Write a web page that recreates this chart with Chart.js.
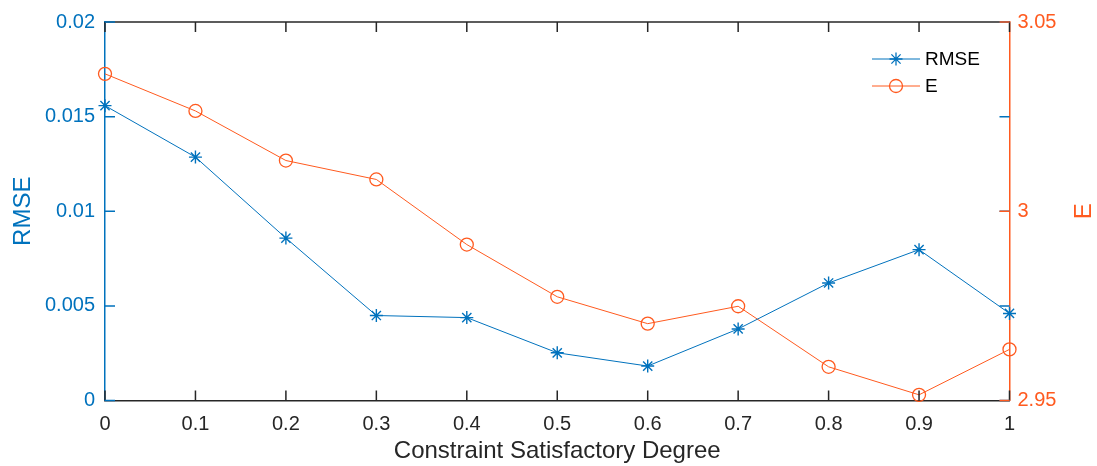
<!DOCTYPE html>
<html>
<head>
<meta charset="utf-8">
<script src="https://cdn.jsdelivr.net/npm/chart.js@4"></script>
<style>
  html, body { margin: 0; padding: 0; background: #fff; }
  #wrap { width: 1097px; height: 466px; }
</style>
</head>
<body>
<div id="wrap"><canvas id="chart" width="1097" height="466"></canvas></div>
<script>
// data
const degree = [0, 0.1, 0.2, 0.3, 0.4, 0.5, 0.6, 0.7, 0.8, 0.9, 1];
const rmse = [0.01558, 0.01286, 0.00858, 0.00449, 0.00438, 0.00252, 0.00182, 0.00378, 0.00621, 0.00797, 0.0046];
const energy = [3.0363, 3.0265, 3.0134, 3.0084, 2.9912, 2.9774, 2.9703, 2.9749, 2.9589, 2.9515, 2.9635];

const xTicks = [0, 0.1, 0.2, 0.3, 0.4, 0.5, 0.6, 0.7, 0.8, 0.9, 1];
const leftTicks = [0, 0.005, 0.01, 0.015, 0.02];
const rightTicks = [2.95, 3, 3.05];

const BLUE = '#0072BD';
const ORANGE = '#FF5A1F';
const INK = '#262626';
const FONT = '"Liberation Sans", Arial, sans-serif';

function fmt(v) {
  return String(Number(v.toFixed(4)));
}

// MATLAB-like frame: inward ticks, top edge, right label, legend
const matlabFrame = {
  id: 'matlabFrame',
  afterDatasetsDraw(chart) {
    const {ctx, chartArea: a, scales} = chart;
    const len = 10;
    ctx.save();
    ctx.lineWidth = 1.5;

    // top edge
    ctx.strokeStyle = INK;
    ctx.beginPath();
    ctx.moveTo(a.left, a.top);
    ctx.lineTo(a.right, a.top);
    ctx.stroke();

    // x ticks, bottom and top
    xTicks.forEach(v => {
      const px = scales.x.getPixelForValue(v);
      ctx.beginPath();
      ctx.moveTo(px, a.bottom);
      ctx.lineTo(px, a.bottom - len);
      ctx.moveTo(px, a.top);
      ctx.lineTo(px, a.top + len);
      ctx.stroke();
    });

    // left ticks (also mirrored on right side)
    ctx.strokeStyle = BLUE;
    leftTicks.forEach(v => {
      const py = scales.y.getPixelForValue(v);
      ctx.beginPath();
      ctx.moveTo(a.left, py);
      ctx.lineTo(a.left + len, py);
      ctx.moveTo(a.right, py);
      ctx.lineTo(a.right - len, py);
      ctx.stroke();
    });

    // right ticks
    ctx.strokeStyle = ORANGE;
    rightTicks.forEach(v => {
      const py = scales.y1.getPixelForValue(v);
      ctx.beginPath();
      ctx.moveTo(a.right, py);
      ctx.lineTo(a.right - len, py);
      ctx.stroke();
    });

    // right axis label, read bottom to top like MATLAB
    ctx.fillStyle = ORANGE;
    ctx.font = '24px ' + FONT;
    ctx.textAlign = 'center';
    ctx.textBaseline = 'middle';
    ctx.translate(1084, (a.top + a.bottom) / 2);
    ctx.rotate(-Math.PI / 2);
    ctx.fillText('E', 0, 0);
    ctx.setTransform(1, 0, 0, 1, 0, 0);

    // legend
    const lx = 872, lw = 48;
    const rows = [
      {label: 'RMSE', color: BLUE, style: 'star', y: 59},
      {label: 'E', color: ORANGE, style: 'circle', y: 86}
    ];
    ctx.font = '19px ' + FONT;
    ctx.textAlign = 'left';
    rows.forEach(r => {
      ctx.strokeStyle = r.color;
      ctx.lineWidth = 1;
      ctx.beginPath();
      ctx.moveTo(lx, r.y);
      ctx.lineTo(lx + lw, r.y);
      ctx.stroke();
      ctx.lineWidth = 1.3;
      ctx.fillStyle = 'rgba(0,0,0,0)';
      Chart.helpers.drawPoint(ctx, {pointStyle: r.style, radius: 6.5, borderWidth: 1.3}, lx + lw / 2, r.y);
      ctx.fillStyle = '#000';
      ctx.fillText(r.label, lx + lw + 5, r.y + 1);
    });
    ctx.restore();
  }
};

const points = degree.map((d, i) => ({x: d, y: rmse[i]}));
const points2 = degree.map((d, i) => ({x: d, y: energy[i]}));

new Chart(document.getElementById('chart'), {
  type: 'line',
  data: {
    datasets: [
      {
        label: 'RMSE',
        data: points,
        yAxisID: 'y',
        borderColor: BLUE,
        backgroundColor: 'transparent',
        borderWidth: 1,
        pointStyle: 'star',
        pointRadius: 6.5,
        pointBorderWidth: 1.4,
        pointBorderColor: BLUE,
        tension: 0,
        clip: false
      },
      {
        label: 'E',
        data: points2,
        yAxisID: 'y1',
        borderColor: ORANGE,
        backgroundColor: 'transparent',
        borderWidth: 1,
        pointStyle: 'circle',
        pointRadius: 6.5,
        pointBorderWidth: 1.3,
        pointBorderColor: ORANGE,
        pointBackgroundColor: 'transparent',
        tension: 0,
        clip: false
      }
    ]
  },
  options: {
    responsive: false,
    animation: false,
    devicePixelRatio: 1,
    layout: {padding: {top: 21, left: 0, right: 0, bottom: 0}},
    plugins: {
      legend: {display: false},
      tooltip: {enabled: false}
    },
    scales: {
      x: {
        type: 'linear',
        min: 0,
        max: 1,
        afterBuildTicks: s => { s.ticks = xTicks.map(v => ({value: v})); },
        afterFit: s => { s.height = 65.5; },
        grid: {display: true, drawOnChartArea: false, drawTicks: false},
        border: {display: true, color: INK, width: 1.5},
        ticks: {
          color: INK,
          font: {family: FONT, size: 20},
          padding: 12,
          maxRotation: 0,
          callback: v => fmt(v)
        },
        title: {
          display: true,
          text: 'Constraint Satisfactory Degree',
          color: INK,
          font: {family: FONT, size: 24},
          padding: {top: -2, bottom: 0}
        }
      },
      y: {
        position: 'left',
        min: 0,
        max: 0.02,
        afterBuildTicks: s => { s.ticks = leftTicks.map(v => ({value: v})); },
        afterFit: s => { s.width = 105; },
        grid: {display: true, drawOnChartArea: false, drawTicks: false},
        border: {display: true, color: BLUE, width: 1.5},
        ticks: {
          color: BLUE,
          font: {family: FONT, size: 20},
          padding: 10,
          callback: v => fmt(v)
        },
        title: {
          display: true,
          text: 'RMSE',
          color: BLUE,
          font: {family: FONT, size: 24},
          padding: {top: 9, bottom: 0}
        }
      },
      y1: {
        position: 'right',
        min: 2.95,
        max: 3.05,
        afterBuildTicks: s => { s.ticks = rightTicks.map(v => ({value: v})); },
        afterFit: s => { s.width = 87.5; },
        grid: {display: true, drawOnChartArea: false, drawTicks: false},
        border: {display: true, color: ORANGE, width: 1.5},
        ticks: {
          color: ORANGE,
          font: {family: FONT, size: 20},
          padding: 8,
          callback: v => fmt(v)
        }
      }
    }
  },
  plugins: [matlabFrame]
});
</script>
</body>
</html>
